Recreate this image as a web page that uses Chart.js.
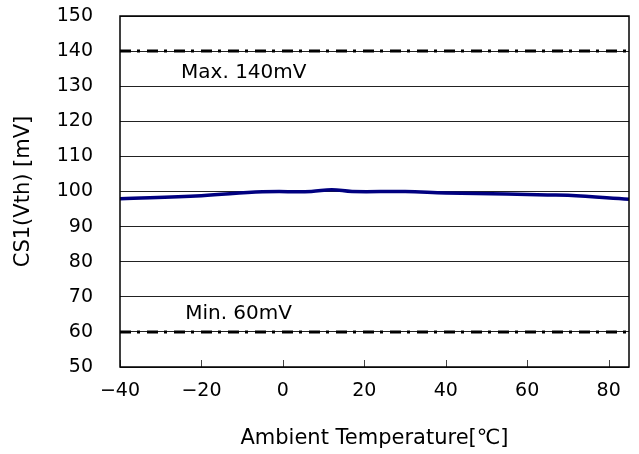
<!DOCTYPE html>
<html>
<head>
<meta charset="utf-8">
<script src="https://cdn.jsdelivr.net/npm/chart.js@4.4.1/dist/chart.umd.min.js"></script>
<style>
  html, body { margin: 0; padding: 0; background: #fff; }
  #wrap { width: 639px; height: 454px; position: relative; }
</style>
</head>
<body>
<div id="wrap"><canvas id="c" width="639" height="454"></canvas></div>
<script>
// ---- data ----
const temperatures = [-40, -20, -5, 7, 12, 17, 30, 40, 55, 65, 70, 85];
const cs1Vth       = [97.9, 98.8, 99.9, 100.0, 100.5, 100.0, 100.0, 99.6, 99.3, 99.0, 98.9, 97.8];
const limitX       = [-40, 85];
const maxLimit     = [140, 140];
const minLimit     = [60, 60];
const xTicks       = [-40, -20, 0, 20, 40, 60, 80];
const xTickLabels  = ['\u221240', '\u221220', '0', '20', '40', '60', '80'];
const yTicks       = [50, 60, 70, 80, 90, 100, 110, 120, 130, 140, 150];
const noteTexts    = ['Max. 140mV', 'Min. 60mV'];
const noteX        = [-25, -24];
const noteY        = [133.8, 65.3];

const FONT = '"DejaVu Sans", sans-serif';

const notesPlugin = {
  id: 'notes',
  afterDatasetsDraw(chart) {
    const {ctx, scales: {x, y}, chartArea} = chart;
    ctx.save();
    // inward tick marks on x axis
    ctx.strokeStyle = '#444';
    ctx.lineWidth = 1;
    xTicks.forEach(v => {
      const px = Math.round(x.getPixelForValue(v)) + 0.5;
      ctx.beginPath();
      ctx.moveTo(px, chartArea.bottom);
      ctx.lineTo(px, chartArea.bottom - 7);
      ctx.stroke();
    });
    // text notes
    ctx.fillStyle = '#000';
    ctx.font = '20px ' + FONT;
    ctx.textAlign = 'left';
    ctx.textBaseline = 'middle';
    noteTexts.forEach((t, i) => {
      ctx.fillText(t, x.getPixelForValue(noteX[i]), y.getPixelForValue(noteY[i]));
    });
    // plot frame
    ctx.strokeStyle = '#000';
    ctx.lineWidth = 1.5;
    ctx.strokeRect(chartArea.left, chartArea.top, chartArea.right - chartArea.left, chartArea.bottom - chartArea.top);
    ctx.restore();
  }
};

const dashDot = [11, 6, 3, 7];

new Chart(document.getElementById('c'), {
  type: 'line',
  data: {
    datasets: [
      {
        label: 'CS1(Vth)',
        data: temperatures.map((t, i) => ({x: t, y: cs1Vth[i]})),
        borderColor: '#000080',
        borderWidth: 3.5,
        pointRadius: 0,
        tension: 0.4
      },
      {
        label: 'Max',
        data: limitX.map((t, i) => ({x: t, y: maxLimit[i]})),
        borderColor: '#000',
        borderWidth: 3,
        borderDash: dashDot,
        pointRadius: 0
      },
      {
        label: 'Min',
        data: limitX.map((t, i) => ({x: t, y: minLimit[i]})),
        borderColor: '#000',
        borderWidth: 3,
        borderDash: dashDot,
        pointRadius: 0
      }
    ]
  },
  options: {
    responsive: false,
    animation: false,
    devicePixelRatio: 1,
    layout: { padding: { left: 0, right: 10, top: 16, bottom: 0 } },
    plugins: { legend: { display: false }, tooltip: { enabled: false } },
    scales: {
      x: {
        type: 'linear',
        min: -40,
        max: 85,
        afterBuildTicks(scale) { scale.ticks = xTicks.map(v => ({value: v})); },
        afterFit(scale) { scale.height = 87; scale.paddingLeft = 0; scale.paddingRight = 0; },
        grid: { display: false, drawTicks: false },
        border: { display: false },
        ticks: {
          color: '#000',
          font: { family: FONT, size: 19 },
          padding: 13,
          maxRotation: 0,
          autoSkip: false,
          callback: (v) => { const i = xTicks.indexOf(v); return i >= 0 ? xTickLabels[i] : ''; }
        },
        title: {
          display: true,
          text: 'Ambient Temperature[\u2103]',
          color: '#000',
          font: { family: FONT, size: 21 },
          padding: { top: 0, bottom: 3 }
        }
      },
      y: {
        type: 'linear',
        min: 50,
        max: 150,
        afterBuildTicks(scale) { scale.ticks = yTicks.map(v => ({value: v})); },
        afterFit(scale) { scale.width = 120; scale.paddingTop = 0; scale.paddingBottom = 0; },
        grid: { color: '#222', lineWidth: 1, drawTicks: false },
        border: { display: false },
        ticks: {
          color: '#000',
          font: { family: FONT, size: 19 },
          padding: 27
        },
        title: {
          display: true,
          text: 'CS1(Vth) [mV]',
          color: '#000',
          font: { family: FONT, size: 21 },
          padding: { top: 11, bottom: 0 }
        }
      }
    }
  },
  plugins: [notesPlugin]
});
</script>
</body>
</html>
